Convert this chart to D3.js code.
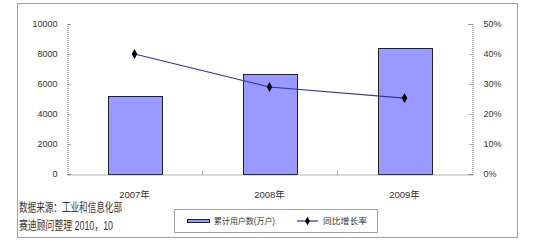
<!DOCTYPE html>
<meta charset="utf-8">
<style>
body { margin: 0; background: #fff; }
text { font-family: "Liberation Sans", "Noto Sans CJK SC", sans-serif; fill: #333; }
.dot { fill: none; stroke: #444; stroke-width: 1px; stroke-dasharray: 1,1; }
.axis path, .axis line { stroke: #666; stroke-dasharray: 1,1; }
.axis text { font-size: 9px; }
.bar { fill: #9999ff; stroke: #222; stroke-width: 1px; }
.line { fill: none; stroke: #333399; stroke-width: 1.2px; }
</style>
<body>
<script src="https://d3js.org/d3.v7.min.js"></script>
<script>

// data
var years = ["2007年", "2008年", "2009年"];
var users = [5200, 6700, 8400];          // 累计用户数(万户)
var growth = [0.40, 0.29, 0.253];        // 同比增长率
var leftTicks = [0, 2000, 4000, 6000, 8000, 10000];
var rightTicks = [0, 0.1, 0.2, 0.3, 0.4, 0.5];

var svg = d3.select("body").append("svg")
    .attr("width", 544)
    .attr("height", 248);

// outer frame
svg.append("rect").attr("class", "dot")
    .attr("x", 17.5).attr("y", 3.5)
    .attr("width", 500).attr("height", 234);

var plotL = 67, plotR = 472, plotT = 24, plotB = 174;

var x = d3.scaleBand().domain(years).range([plotL, plotR])
    .paddingInner(0.6).paddingOuter(0.3);
var xCat = d3.scaleBand().domain(years).range([plotL, plotR]);
var y = d3.scaleLinear().domain([0, 10000]).range([plotB, plotT]);
var y2 = d3.scaleLinear().domain([0, 0.5]).range([plotB, plotT]);

// bars
svg.selectAll(".bar").data(users).enter().append("rect")
    .attr("class", "bar")
    .attr("x", function(d, i) { return Math.round(x(years[i])) + 0.5; })
    .attr("y", function(d) { return Math.round(y(d)) + 0.5; })
    .attr("width", Math.round(x.bandwidth()))
    .attr("height", function(d) { return plotB - Math.round(y(d)); });

// left axis
svg.append("g").attr("class", "axis")
    .attr("transform", "translate(" + (plotL + 0.5) + ",0)")
    .call(d3.axisLeft(y).tickValues(leftTicks).tickFormat(d3.format("d"))
        .tickSizeInner(-3).tickSizeOuter(-3).tickPadding(10))
    .call(function(g) { g.selectAll("text").attr("fill", "#333"); });

// right axis
svg.append("g").attr("class", "axis")
    .attr("transform", "translate(" + (plotR + 0.5) + ",0)")
    .call(d3.axisRight(y2).tickValues(rightTicks).tickFormat(d3.format(".0%"))
        .tickSizeInner(-4).tickSizeOuter(-4).tickPadding(11))
    .call(function(g) { g.selectAll("text").attr("fill", "#333"); });

// bottom axis
var xa = svg.append("g").attr("class", "axis")
    .attr("transform", "translate(0," + (plotB + 0.5) + ")")
    .call(d3.axisBottom(xCat).tickSize(0).tickPadding(17));
xa.selectAll("text").attr("fill", "#333").style("font-size", "9.5px");
xa.selectAll(".sep").data(years.slice(1)).enter().append("line")
    .attr("x1", function(d) { return Math.round(xCat(d)) + 0.5; })
    .attr("x2", function(d) { return Math.round(xCat(d)) + 0.5; })
    .attr("y1", 0).attr("y2", -3);

// growth line
var line = d3.line()
    .x(function(d, i) { return x(years[i]) + x.bandwidth() / 2; })
    .y(function(d) { return y2(d); });
svg.append("path").datum(growth).attr("class", "line").attr("d", line);
svg.selectAll(".mk").data(growth).enter().append("path")
    .attr("class", "mk")
    .attr("transform", function(d, i) {
      return "translate(" + (x(years[i]) + x.bandwidth() / 2) + "," + y2(d) + ")"; })
    .attr("d", d3.symbol(d3.symbolDiamond, 28))
    .attr("fill", "#000");

// source notes
svg.append("text").attr("x", 19).attr("y", 212)
    .attr("textLength", 103).attr("lengthAdjust", "spacingAndGlyphs")
    .style("font-size", "12px").attr("fill", "#222")
    .text("数据来源：工业和信息化部");
svg.append("text").attr("x", 19).attr("y", 230)
    .attr("textLength", 94).attr("lengthAdjust", "spacingAndGlyphs")
    .style("font-size", "12px").attr("fill", "#222")
    .text("赛迪顾问整理 2010，10");

// legend
var lg = svg.append("g");
lg.append("rect").attr("class", "dot")
    .attr("x", 174.5).attr("y", 209.5).attr("width", 203).attr("height", 23);
lg.append("rect").attr("class", "bar")
    .attr("x", 187.5).attr("y", 219.5).attr("width", 22).attr("height", 3);
lg.append("text").attr("x", 214).attr("y", 224)
    .attr("textLength", 61).attr("lengthAdjust", "spacingAndGlyphs")
    .style("font-size", "8.5px").text("累计用户数(万户)");
lg.append("line").attr("class", "line")
    .attr("x1", 297).attr("x2", 318).attr("y1", 221).attr("y2", 221);
lg.append("path").attr("transform", "translate(307.5,221)")
    .attr("d", d3.symbol(d3.symbolDiamond, 20)).attr("fill", "#000");
lg.append("text").attr("x", 323).attr("y", 224)
    .attr("textLength", 44).attr("lengthAdjust", "spacingAndGlyphs")
    .style("font-size", "8.5px").text("同比增长率");

</script>
</body>
